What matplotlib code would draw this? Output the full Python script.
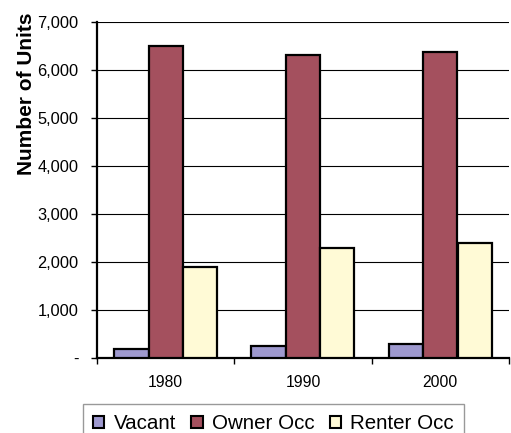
import matplotlib
matplotlib.use("Agg")
import matplotlib.pyplot as plt
from matplotlib.patches import Patch
import numpy as np

plt.rcParams['font.family'] = ['Liberation Sans', 'DejaVu Sans']

years = ["1980", "1990", "2000"]
series = ["Vacant", "Owner Occ", "Renter Occ"]
vacant = [185, 250, 285]
owner = [6490, 6315, 6380]
renter = [1900, 2300, 2400]
colors = ["#9E99CF", "#A4505E", "#FFFAD6"]
yticks = [0, 1000, 2000, 3000, 4000, 5000, 6000, 7000]
ytick_labels = ["-", "1,000", "2,000", "3,000", "4,000", "5,000", "6,000", "7,000"]

W, H = 511, 433
fig = plt.figure(figsize=(W / 100, H / 100), dpi=100)
ax = fig.add_axes([97 / W, 1 - 358 / H, (509 - 97) / W, (358 - 22) / H])

x = np.arange(len(years))
bw = 0.25
for i, (vals, c) in enumerate(zip([vacant, owner, renter], colors)):
    ax.bar(x + (i - 1) * bw, vals, width=bw, color=c, edgecolor="black",
           linewidth=1.6, zorder=3)

ax.set_xlim(-0.5, 2.5)
ax.set_ylim(0, 7000)
ax.set_yticks(yticks)
ax.set_yticklabels(ytick_labels, fontsize=11.8)
ax.set_xticks(x)
ax.set_xticklabels(years, fontsize=11.3)
ax.set_xticks([-0.5, 0.5, 1.5, 2.5], minor=True)
ax.tick_params(axis="x", which="major", length=0, pad=12)
ax.tick_params(axis="x", which="minor", length=4.5, width=1, direction="out")
ax.tick_params(axis="y", which="major", length=4.5, width=1, direction="out", pad=9)

ax.yaxis.grid(True, color="black", linewidth=0.8, zorder=0)
ax.set_axisbelow(True)
for s in ["top", "right"]:
    ax.spines[s].set_visible(False)
ax.spines["left"].set_linewidth(1.6)
ax.spines["bottom"].set_linewidth(1.6)

ax.set_ylabel("Number of Units", fontsize=15, fontweight="bold")
ax.yaxis.set_label_coords(-0.148, 0.787)

handles = [Patch(facecolor=c, edgecolor="black", linewidth=1.5) for c in colors]
leg = fig.legend(handles, series, loc="upper center", ncol=3,
                 bbox_to_anchor=(273.5 / W, 1 - 404 / H), fontsize=14.8,
                 handlelength=0.55, handleheight=0.55, handletextpad=0.45,
                 columnspacing=0.75, borderpad=0.5, borderaxespad=0,
                 frameon=True, fancybox=False)
leg.get_frame().set_edgecolor("#808080")
leg.get_frame().set_linewidth(1.0)

fig.savefig("out.png", dpi=100)
